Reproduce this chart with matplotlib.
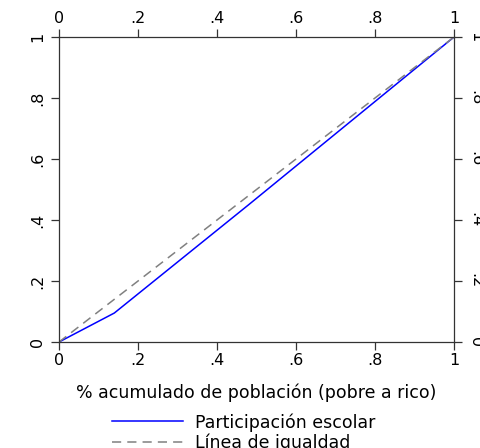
import numpy as np
import matplotlib
matplotlib.use("Agg")
from matplotlib import pyplot as plt

# curva de concentracion (participacion escolar)
pob_acum = [0.0, 0.14, 0.48, 1.0]
part_acum = [0.0, 0.095, 0.45, 1.0]
igualdad = [0.0, 1.0]

ticks = [0, 0.2, 0.4, 0.6, 0.8, 1.0]
tick_labels = ['0', '.2', '.4', '.6', '.8', '1']

plt.rcParams['font.family'] = ['DejaVu Sans']

fig = plt.figure(figsize=(4.81, 4.48), dpi=100)
ax = fig.add_axes([0.1227, 0.2366, 0.8212, 0.6808])

ax.plot(pob_acum, part_acum, color='blue', lw=1.1, label='Participación escolar')
ax.plot(igualdad, igualdad, color='#808080', lw=1.1, dashes=(6, 4), label='Línea de igualdad')

ax.set_xlim(0, 1)
ax.set_ylim(0, 1)
ax.set_xticks(ticks)
ax.set_xticklabels(tick_labels)
ax.set_yticks(ticks)
ax.set_yticklabels(tick_labels)
ax.tick_params(axis='both', direction='out', length=6, width=0.9, color='#333333',
               labelsize=11.5, top=True, right=True, labeltop=True, labelright=True)
ax.tick_params(axis='x', pad=2)
ax.tick_params(axis='y', pad=4)
for lab in ax.get_yticklabels():
    lab.set_rotation(90)
    lab.set_va('center')
for t in ax.yaxis.get_major_ticks():
    t.label2.set_rotation(-90)
    t.label2.set_va('center')
for s in ax.spines.values():
    s.set_linewidth(0.9)
    s.set_color('#333333')

ax.set_xlabel('% acumulado de población (pobre a rico)', fontsize=12.5, labelpad=11)

fig.legend(loc='upper left', bbox_to_anchor=(112 / 481, 1 - 413 / 448), frameon=False,
           fontsize=12.5, handlelength=4.1, handletextpad=0.7, labelspacing=0.1,
           borderpad=0, borderaxespad=0)

fig.savefig('out.png', dpi=100)
